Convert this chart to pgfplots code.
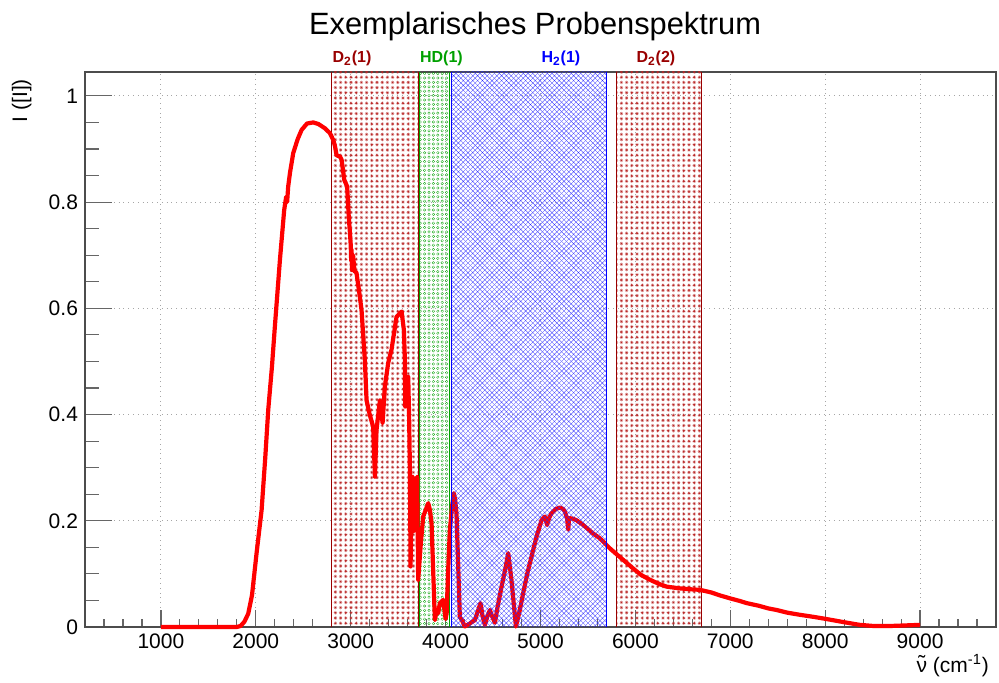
\documentclass[border=0pt]{standalone}
\usepackage{fontspec}
\setmainfont{Liberation Sans}
\usepackage{pgfplots}
\pgfplotsset{compat=1.18}
\usetikzlibrary{patterns}
\definecolor{droot}{RGB}{153,0,0}
\definecolor{dpat}{RGB}{185,40,40}
\definecolor{groot}{RGB}{0,160,0}
\definecolor{broot}{RGB}{0,0,255}
\definecolor{bpat}{RGB}{40,40,255}

\pgfdeclarepatternformonly{rootstar}{\pgfqpoint{-0.1pt}{-0.1pt}}{\pgfqpoint{2.7pt}{2.7pt}}{\pgfqpoint{2.6pt}{2.6pt}}{%
  \pgfsetlinewidth{0.13pt}%
  \pgfpathmoveto{\pgfqpoint{0.4pt}{1.3pt}}\pgfpathlineto{\pgfqpoint{2.2pt}{1.3pt}}%
  \pgfpathmoveto{\pgfqpoint{1.3pt}{0.4pt}}\pgfpathlineto{\pgfqpoint{1.3pt}{2.2pt}}%
  \pgfpathmoveto{\pgfqpoint{0.7pt}{0.7pt}}\pgfpathlineto{\pgfqpoint{1.9pt}{1.9pt}}%
  \pgfpathmoveto{\pgfqpoint{0.7pt}{1.9pt}}\pgfpathlineto{\pgfqpoint{1.9pt}{0.7pt}}%
  \pgfusepath{stroke}%
}
\pgfdeclarepatternformonly{rootcircle}{\pgfqpoint{-0.1pt}{-0.1pt}}{\pgfqpoint{2.3pt}{2.3pt}}{\pgfqpoint{2.2pt}{2.2pt}}{%
  \pgfsetlinewidth{0.14pt}%
  \pgfpathcircle{\pgfqpoint{1.1pt}{1.1pt}}{0.65pt}%
  \pgfusepath{stroke}%
}
\pgfdeclarepatternformonly{rootxhatch}{\pgfqpoint{-0.1pt}{-0.1pt}}{\pgfqpoint{2.5pt}{2.5pt}}{\pgfqpoint{2.4pt}{2.4pt}}{%
  \pgfsetlinewidth{0.13pt}%
  \pgfpathmoveto{\pgfqpoint{0pt}{0pt}}\pgfpathlineto{\pgfqpoint{2.4pt}{2.4pt}}%
  \pgfpathmoveto{\pgfqpoint{0pt}{2.4pt}}\pgfpathlineto{\pgfqpoint{2.4pt}{0pt}}%
  \pgfusepath{stroke}%
}

\pgfplotstableread{
x y
1000 0
1500 0
1800 0
1840 0.002
1880 0.01
1920 0.025
1960 0.06
2008 0.139
2061 0.22
2100 0.32
2131 0.409
2170 0.49
2201 0.566
2254 0.691
2299 0.785
2320 0.81
2330 0.80
2341 0.829
2360 0.855
2394 0.892
2440 0.918
2483 0.936
2540 0.948
2605 0.950
2660 0.947
2728 0.939
2780 0.930
2816 0.917
2835 0.905
2851 0.888
2886 0.886
2904 0.880
2932 0.842
2963 0.829
2980 0.77
2992 0.742
3000 0.72
3005 0.69
3009 0.710
3015 0.672
3025 0.70
3040 0.67
3061 0.667
3090 0.63
3114 0.597
3149 0.503
3167 0.427
3200 0.40
3237 0.377
3255 0.283
3272 0.371
3308 0.427
3336 0.384
3360 0.453
3395 0.497
3430 0.522
3483 0.584
3536 0.594
3560 0.56
3571 0.503
3575 0.415
3590 0.47
3606 0.471
3615 0.40
3624 0.296
3631 0.114
3640 0.28
3652 0.283
3664 0.18
3676 0.202
3688 0.26
3700 0.283
3711 0.089
3740 0.16
3764 0.208
3790 0.22
3817 0.233
3835 0.22
3852 0.195
3887 0.013
3905 0.03
3922 0.026
3940 0.045
3975 0.051
4000 0.015
4011 0.026
4030 0.12
4045 0.183
4070 0.23
4087 0.252
4100 0.24
4115 0.214
4150 0.019
4180 0.01
4203 0.001
4250 0.006
4309 0.013
4340 0.03
4368 0.045
4390 0.02
4414 0.004
4440 0.02
4467 0.032
4490 0.02
4520 0.008
4550 0.04
4590 0.076
4630 0.11
4660 0.139
4694 0.089
4720 0.04
4741 0.001
4780 0.03
4818 0.064
4860 0.10
4905 0.132
4958 0.170
5011 0.201
5046 0.208
5070 0.192
5090 0.205
5116 0.214
5160 0.222
5204 0.225
5240 0.222
5257 0.217
5280 0.205
5292 0.183
5302 0.205
5340 0.204
5380 0.201
5450 0.192
5555 0.176
5626 0.167
5731 0.148
5802 0.137
5900 0.122
5977 0.110
6060 0.098
6153 0.089
6250 0.081
6329 0.076
6450 0.073
6580 0.071
6680 0.070
6800 0.065
6900 0.059
6996 0.054
7100 0.049
7172 0.045
7300 0.040
7400 0.035
7488 0.032
7600 0.027
7733 0.023
7880 0.019
8014 0.015
8200 0.009
8365 0.004
8503 0.002
8700 0.002
9000 0.004
}\spectrum

\newcommand{\nutilde}{\ooalign{ν\cr\hidewidth\raisebox{0.12ex}{\char"02DC}\hidewidth\cr}}

\begin{document}
\begin{tikzpicture}
\useasboundingbox (-42.5pt,-28pt) rectangle (457pt,313.5pt);
\begin{axis}[
  scale only axis, width=455.5pt, height=277.5pt,
  at={(0,0)}, anchor=south west,
  xmin=200, xmax=9800, ymin=0, ymax=1.045,
  clip=false,
  xtick={1000,2000,...,9000},
  minor xtick={400,600,...,9600},
  ytick={0,0.2,0.4,0.6,0.8,1},
  minor ytick={0.05,0.1,0.15,0.25,0.3,0.35,0.45,0.5,0.55,0.65,0.7,0.75,0.85,0.9,0.95},
  xtick pos=bottom, ytick pos=left,
  tick align=inside,
  grid=major,
  major grid style={gray!70, dotted, line width=0.5pt},
  axis line style={black!70, line width=0.6pt},
  every tick/.style={black!60, line width=0.6pt},
  xtick style={/pgfplots/major tick length=8.3pt,/pgfplots/minor tick length=4pt},
  ytick style={/pgfplots/major tick length=13.7pt,/pgfplots/minor tick length=6.9pt},
  /pgf/number format/assume math mode=true,
  scaled x ticks=false,
  xticklabel style={font=\fontsize{10.5}{12}\selectfont, /pgf/number format/1000 sep={}},
  yticklabel style={font=\fontsize{10.5}{12}\selectfont},
]
% D2(1), HD(1), D2(2) regions
\fill[pattern=rootstar, pattern color=dpat] (axis cs:2800,0) rectangle (axis cs:3710,1.045);
\draw[droot, line width=0.5pt] (axis cs:2800,0) -- (axis cs:2800,1.045) (axis cs:3710,0) -- (axis cs:3710,1.045);
\fill[pattern=rootcircle, pattern color=groot] (axis cs:3720,0) rectangle (axis cs:4045,1.045);
\draw[groot, line width=0.5pt] (axis cs:3720,0) -- (axis cs:3720,1.045) (axis cs:4045,0) -- (axis cs:4045,1.045);
\fill[pattern=rootstar, pattern color=dpat] (axis cs:5800,0) rectangle (axis cs:6700,1.045);
\draw[droot, line width=0.5pt] (axis cs:5800,0) -- (axis cs:5800,1.045) (axis cs:6700,0) -- (axis cs:6700,1.045);
% spectrum
\addplot[red, line width=2.1pt, line join=round] table[x=x, y=y] {\spectrum};
% H2(1) region drawn over the curve
\fill[pattern=rootxhatch, pattern color=bpat] (axis cs:4065,0) rectangle (axis cs:5700,1.045);
\draw[broot, line width=0.5pt] (axis cs:4065,0) -- (axis cs:4065,1.045) (axis cs:5700,0) -- (axis cs:5700,1.045);
% region labels
\node[anchor=base, droot, font=\fontsize{8}{9}\selectfont\bfseries] at (axis cs:3013,1.062) {D\textsubscript{2}(1)};
\node[anchor=base, groot, font=\fontsize{8}{9}\selectfont\bfseries] at (axis cs:3956,1.062) {HD(1)};
\node[anchor=base, broot, font=\fontsize{8}{9}\selectfont\bfseries] at (axis cs:5215,1.062) {H\textsubscript{2}(1)};
\node[anchor=base, droot, font=\fontsize{8}{9}\selectfont\bfseries] at (axis cs:6216,1.062) {D\textsubscript{2}(2)};
% title and axis labels
\node[anchor=base, font=\fontsize{15.4}{18}\selectfont] at (axis description cs:0.494,1.0667) {Exemplarisches Probenspektrum};
\node[anchor=base east, rotate=90, font=\fontsize{10.5}{12}\selectfont] at (axis description cs:-0.0634,1) {I ([I])};
\node[anchor=base east, font=\fontsize{10.5}{12}\selectfont] at (axis description cs:1,-0.0811) {\nutilde{} (cm\textsuperscript{-1})};
\end{axis}
\end{tikzpicture}
\end{document}
